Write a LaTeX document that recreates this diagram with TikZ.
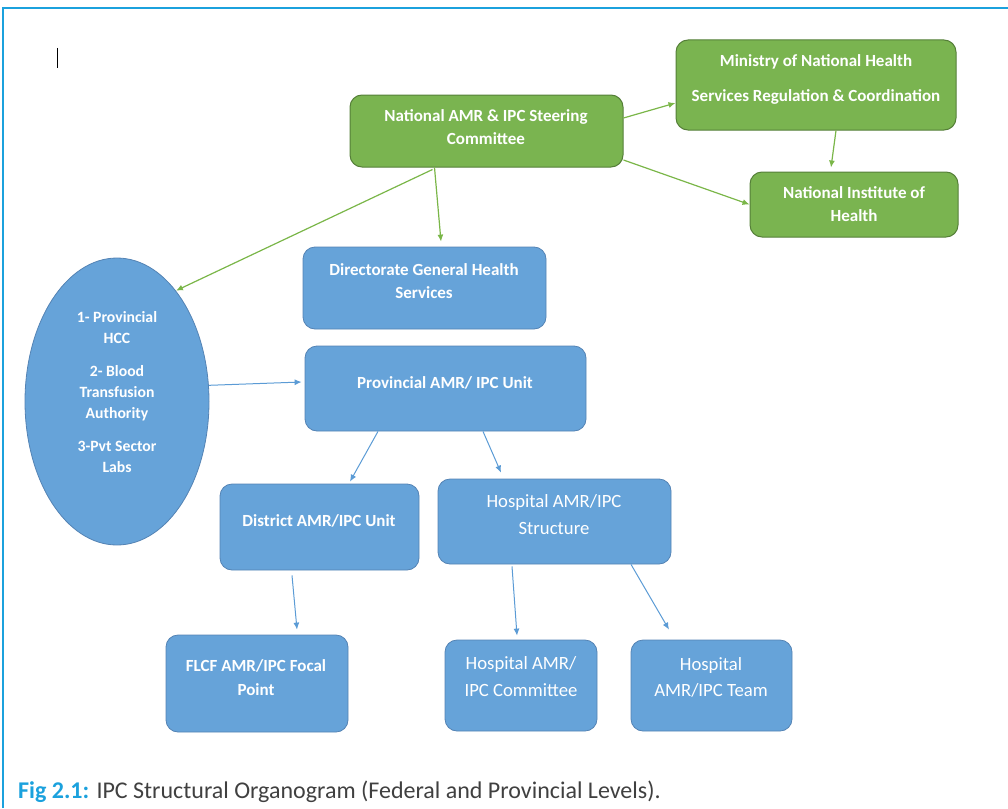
\documentclass[tikz,border=0pt]{standalone}
\usepackage{fontspec}
\setmainfont{Carlito}
\usetikzlibrary{shapes.geometric,arrows.meta}

\definecolor{gfill}{HTML}{7AB450}
\definecolor{gline}{HTML}{557F38}
\definecolor{bfill}{HTML}{66A3D9}
\definecolor{bline}{HTML}{5483B4}
\definecolor{garr}{HTML}{7AB648}
\definecolor{barr}{HTML}{5B9BD5}
\definecolor{framecol}{HTML}{1BA1DD}
\definecolor{capgray}{HTML}{404040}

\begin{document}
\begin{tikzpicture}[x=1pt,y=-1pt,
  gbox/.style={draw=gline, fill=gfill, rounded corners=12pt, line width=1pt},
  bbox/.style={draw=bline, fill=bfill, rounded corners=12pt, line width=0.8pt},
  btxt/.style={text=white, font=\fontsize{17}{23}\selectfont\bfseries, align=center},
  htxt/.style={text=white, font=\fontsize{18.7}{27}\selectfont, align=center},
  garrow/.style={-{Latex[length=7pt,width=6pt]}, garr, line width=1.2pt},
  barrow/.style={-{Latex[length=7pt,width=6pt]}, barr, line width=1pt}]
\useasboundingbox (0,0) rectangle (1008,808);

%Frame
\draw[framecol, line width=2pt] (3,808) -- (3,8) -- (1008,8);
\draw[line width=0.8pt] (57,48) -- (57,68);

%*** National level ***
\node[gbox, minimum width=273pt, minimum height=72pt] (steer) at (486.5,131) {};
\node[gbox, minimum width=280pt, minimum height=90pt] (minis) at (816,85) {};
\node[gbox, minimum width=208pt, minimum height=65pt] (nih) at (854,204.5) {};

\node[btxt] (steer-t) at (486,127) {National AMR \& IPC Steering\\Committee};
\node[btxt, font=\fontsize{17}{35}\selectfont\bfseries] (minis-t) at (816,79.5) {Ministry of National Health\\Services Regulation \& Coordination};
\node[btxt] (nih-t) at (854,204) {National Institute of\\Health};

%*** Provincial level ***
\node[bbox, minimum width=243pt, minimum height=82pt] (dgh) at (424.5,288) {};
\node[bbox, minimum width=281pt, minimum height=85pt] (prov) at (445.5,388.5) {};
\node[bbox, ellipse, minimum width=184pt, minimum height=287pt] (hcc) at (117,401.5) {};

\node[btxt] (dgh-t) at (424,281) {Directorate General Health\\Services};
\node[btxt] (prov-t) at (445,383) {Provincial AMR/ IPC Unit};
\node[btxt, font=\fontsize{15.7}{21}\selectfont\bfseries] (hcc-t) at (117,392) {1- Provincial\\HCC\\[12pt]2- Blood\\Transfusion\\Authority\\[12pt]3-Pvt Sector\\Labs};

%*** District / hospital level ***
\node[bbox, minimum width=199pt, minimum height=86pt] (dist) at (319.5,527) {};
\node[bbox, minimum width=233pt, minimum height=85pt] (hosp) at (554.5,521.5) {};
\node[bbox, minimum width=182pt, minimum height=97pt] (flcf) at (257,683.5) {};
\node[bbox, minimum width=152pt, minimum height=91pt] (hcom) at (521,685.5) {};
\node[bbox, minimum width=161pt, minimum height=91pt] (hteam) at (711.5,685.5) {};

\node[btxt] (dist-t) at (319,521) {District AMR/IPC Unit};
\node[htxt] (hosp-t) at (554,514.5) {Hospital AMR/IPC\\Structure};
\node[btxt, font=\fontsize{17}{24}\selectfont\bfseries] (flcf-t) at (256,678) {FLCF AMR/IPC Focal\\Point};
\node[htxt] (hcom-t) at (521,676.5) {Hospital AMR/\\IPC Committee};
\node[htxt, font=\fontsize{18.7}{26}\selectfont] (hteam-t) at (711,677) {Hospital\\AMR/IPC Team};

%Green arrows
\draw[garrow] ([yshift=13pt]steer.east) -- ([yshift=-18pt]minis.west);
\draw[garrow] ([yshift=-29pt]steer.east) -- (nih.west);
\draw[garrow] ([xshift=20pt]minis.south) -- ([xshift=-23pt,yshift=4pt]nih.north);
\draw[garrow] ([xshift=-52pt]steer.south) -- ([xshift=16.5pt,yshift=5pt]dgh.north);
\draw[garrow] ([xshift=-54pt,yshift=-2pt]steer.south) -- (hcc.62);

%Blue arrows
\draw[barrow] (hcc.10) -- ([xshift=-3pt,yshift=6.5pt]prov.west);
\draw[barrow] ([xshift=-67.5pt]prov.south) -- ([xshift=30.5pt,yshift=2pt]dist.north);
\draw[barrow] ([xshift=37.5pt]prov.south) -- ([xshift=-53.5pt,yshift=6pt]hosp.north);
\draw[barrow] ([xshift=-27.5pt,yshift=-5pt]dist.south) -- ([xshift=40pt,yshift=5pt]flcf.north);
\draw[barrow] ([xshift=-42.5pt,yshift=-2pt]hosp.south) -- ([xshift=-4pt,yshift=4pt]hcom.north);
\draw[barrow] ([xshift=76.5pt]hosp.south) -- ([xshift=-42.5pt,yshift=10pt]hteam.north);

%Caption
\node[anchor=base west, inner sep=0pt, font=\fontsize{24}{28}\selectfont] (cap) at (18,798)
  {\textcolor{framecol}{\bfseries Fig 2.1:} \textcolor{capgray}{IPC Structural Organogram (Federal and Provincial Levels).}};
\end{tikzpicture}
\end{document}
